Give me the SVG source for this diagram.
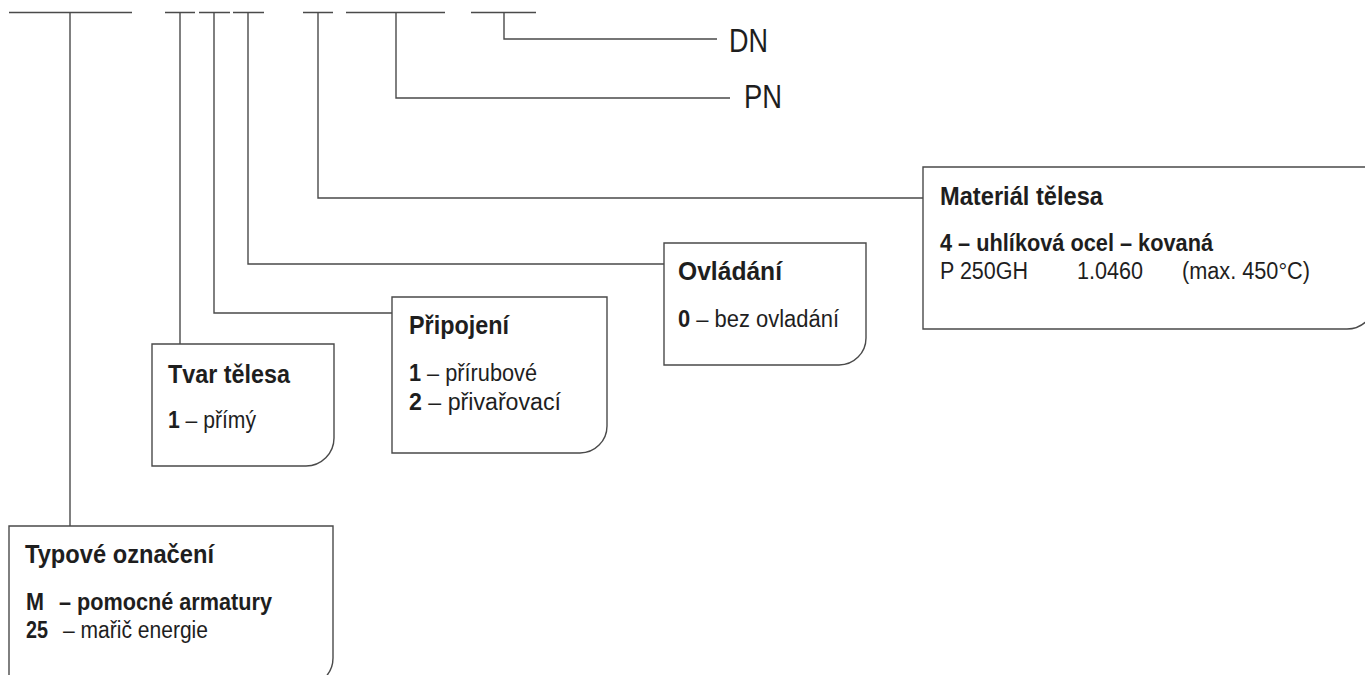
<svg xmlns="http://www.w3.org/2000/svg" width="1365" height="675" viewBox="0 0 1365 675">
<style>
  .ln { fill: none; stroke: #4a4a4a; stroke-width: 1.4; }
  .box { fill: #ffffff; stroke: #4a4a4a; stroke-width: 1.4; }
  text { font-family: "Liberation Sans", Arial, sans-serif; fill: #1e1e1e; }
  .t { font-size: 26px; font-weight: bold; }
  .b { font-size: 23px; }
  .bb { font-weight: bold; }
  .big { font-size: 33px; }
</style>
<rect width="1365" height="675" fill="#ffffff"/>
<g id="connectors">
  <path class="ln" d="M9 12.5 H132 M165 12.5 H195 M199 12.5 H230 M233 12.5 H264 M303 12.5 H333 M346 12.5 H445 M471 12.5 H536"/>
  <path class="ln" d="M70 12.5 V526"/>
  <path class="ln" d="M180 12.5 V344"/>
  <path class="ln" d="M214 12.5 V313 H392"/>
  <path class="ln" d="M248 12.5 V264 H664"/>
  <path class="ln" d="M318 12.5 V198 H923"/>
  <path class="ln" d="M396 12.5 V98 H730"/>
  <path class="ln" d="M504 12.5 V39 H717"/>
</g>
<g id="dn">
  <text class="big" x="729" y="52" textLength="39" lengthAdjust="spacingAndGlyphs">DN</text>
</g>
<g id="pn">
  <text class="big" x="744" y="108" textLength="38" lengthAdjust="spacingAndGlyphs">PN</text>
</g>
<g id="material">
  <path class="box" d="M923 167 H1375 V301 A28 28 0 0 1 1347 329 H923 Z"/>
  <text class="t" x="940" y="205" textLength="163" lengthAdjust="spacingAndGlyphs">Materiál tělesa</text>
  <text class="b bb" x="940" y="251" textLength="273" lengthAdjust="spacingAndGlyphs">4 – uhlíková ocel – kovaná</text>
  <text class="b" x="940" y="279" textLength="88" lengthAdjust="spacingAndGlyphs">P 250GH</text>
  <text class="b" x="1077" y="279" textLength="66" lengthAdjust="spacingAndGlyphs">1.0460</text>
  <text class="b" x="1182" y="279" textLength="128" lengthAdjust="spacingAndGlyphs">(max. 450°C)</text>
</g>
<g id="ovladani">
  <path class="box" d="M664 243 H866 V338 A27 27 0 0 1 839 365 H664 Z"/>
  <text class="t" x="678" y="280" textLength="104" lengthAdjust="spacingAndGlyphs">Ovládání</text>
  <text class="b" x="678" y="327" textLength="161" lengthAdjust="spacingAndGlyphs"><tspan class="bb">0</tspan> – bez ovladání</text>
</g>
<g id="pripojeni">
  <path class="box" d="M392 297 H607 V426 A27 27 0 0 1 580 453 H392 Z"/>
  <text class="t" x="409" y="334" textLength="100" lengthAdjust="spacingAndGlyphs">Připojení</text>
  <text class="b" x="409" y="381" textLength="128" lengthAdjust="spacingAndGlyphs"><tspan class="bb">1</tspan> – přírubové</text>
  <text class="b" x="409" y="410" textLength="152" lengthAdjust="spacingAndGlyphs"><tspan class="bb">2</tspan> – přivařovací</text>
</g>
<g id="tvar">
  <path class="box" d="M152 344 H334 V438 A28 28 0 0 1 306 466 H152 Z"/>
  <text class="t" x="168" y="383" textLength="122" lengthAdjust="spacingAndGlyphs">Tvar tělesa</text>
  <text class="b" x="168" y="428" textLength="88" lengthAdjust="spacingAndGlyphs"><tspan class="bb">1</tspan> – přímý</text>
</g>
<g id="typove">
  <path class="box" d="M9 526 H333 V658 A28 28 0 0 1 305 686 H9 Z"/>
  <text class="t" x="25" y="563" textLength="189" lengthAdjust="spacingAndGlyphs">Typové označení</text>
  <text class="b bb" x="26" y="610" textLength="18" lengthAdjust="spacingAndGlyphs">M</text>
  <text class="b bb" x="59" y="610" textLength="213" lengthAdjust="spacingAndGlyphs">– pomocné armatury</text>
  <text class="b bb" x="26" y="638" textLength="22" lengthAdjust="spacingAndGlyphs">25</text>
  <text class="b" x="63" y="638" textLength="145" lengthAdjust="spacingAndGlyphs">– mařič energie</text>
</g>
</svg>
